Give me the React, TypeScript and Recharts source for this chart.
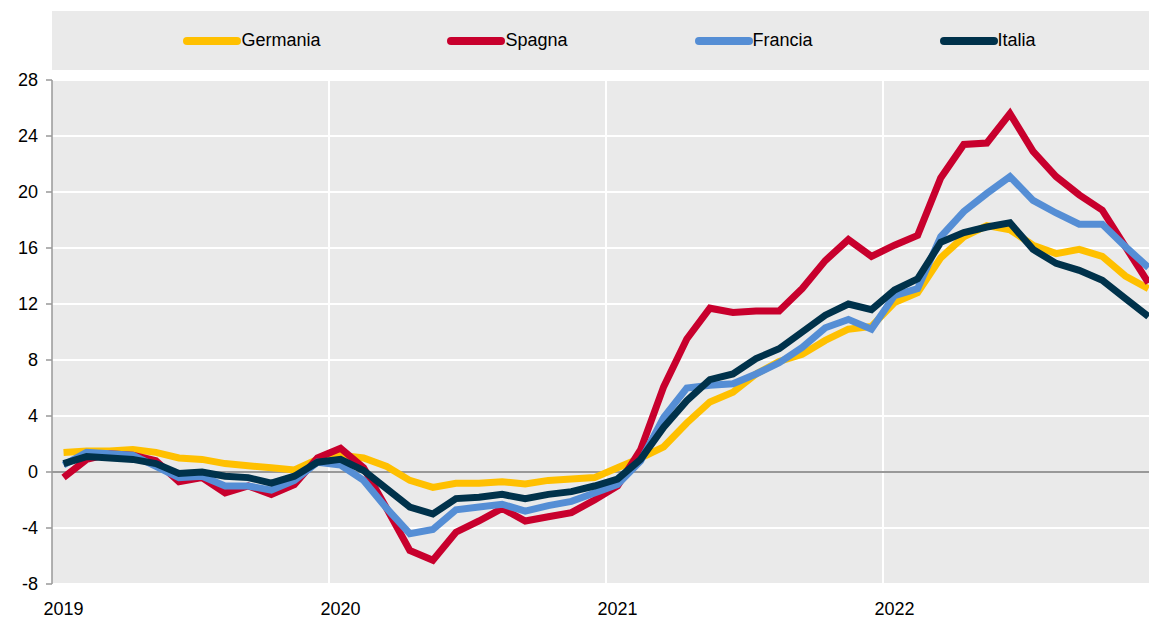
import React from 'react';
import {
  LineChart,
  Line,
  XAxis,
  YAxis,
  CartesianGrid,
  ReferenceLine,
} from 'recharts';

// monthly values, Jan 2019 .. Dec 2022
const years = ['2019', '2020', '2021', '2022'];

const germania = [
  1.4, 1.5, 1.5, 1.6, 1.4, 1.0, 0.9, 0.6, 0.45, 0.3, 0.15, 0.9,
  1.2, 1.0, 0.4, -0.6, -1.1, -0.8, -0.8, -0.7, -0.85, -0.6, -0.5, -0.4,
  0.3, 1.0, 1.8, 3.5, 5.0, 5.7, 7.0, 7.9, 8.4, 9.4, 10.2, 10.4,
  12.1, 12.8, 15.3, 16.8, 17.6, 17.3, 16.2, 15.6, 15.9, 15.4, 14.0, 13.1,
];

const spagna = [
  -0.4, 0.9, 1.3, 1.2, 0.8, -0.7, -0.4, -1.5, -1.0, -1.6, -0.9, 1.0,
  1.7, 0.3, -2.6, -5.6, -6.3, -4.3, -3.5, -2.6, -3.5, -3.2, -2.9, -2.0,
  -1.0, 1.6, 6.1, 9.5, 11.7, 11.4, 11.5, 11.5, 13.1, 15.1, 16.6, 15.4,
  16.2, 16.9, 21.0, 23.4, 23.5, 25.6, 22.9, 21.1, 19.8, 18.7, 16.1, 13.5,
];

const francia = [
  0.5, 1.4, 1.3, 1.2, 0.4, -0.4, -0.3, -1.0, -1.0, -1.3, -0.6, 0.7,
  0.5, -0.6, -2.6, -4.4, -4.1, -2.7, -2.5, -2.3, -2.8, -2.4, -2.1, -1.5,
  -0.9, 0.8, 3.9, 6.0, 6.2, 6.3, 7.0, 7.8, 8.9, 10.3, 10.9, 10.2,
  12.6, 13.1, 16.8, 18.6, 19.9, 21.1, 19.4, 18.5, 17.7, 17.7, 16.1, 14.6,
];

const italia = [
  0.6, 1.1, 1.0, 0.9, 0.6, -0.1, 0.0, -0.3, -0.4, -0.8, -0.3, 0.7,
  0.9, 0.1, -1.2, -2.5, -3.0, -1.9, -1.8, -1.6, -1.9, -1.6, -1.4, -1.0,
  -0.5, 0.9, 3.2, 5.1, 6.6, 7.0, 8.1, 8.8, 10.0, 11.2, 12.0, 11.6,
  13.0, 13.8, 16.4, 17.1, 17.5, 17.8, 15.9, 14.9, 14.4, 13.7, 12.4, 11.1,
];

const yTicks = [-8, -4, 0, 4, 8, 12, 16, 20, 24, 28];

const series = [
  { key: 'Germania', values: germania, color: '#FFC000' },
  { key: 'Spagna', values: spagna, color: '#C8002D' },
  { key: 'Francia', values: francia, color: '#558ED5' },
  { key: 'Italia', values: italia, color: '#00324B' },
];

// each month sits in the middle of its slot, years start at slot 0, 12, 24, 36
const data = germania.map((_, i) => {
  const row: Record<string, number> = { x: i + 0.5 };
  series.forEach((s) => (row[s.key] = s.values[i]));
  return row;
});

const FONT = '"Liberation Sans", Arial, sans-serif';
const BG = '#EAEAEA';

const LegendBox = () => (
  <div
    style={{
      position: 'absolute',
      left: 52,
      top: 11,
      width: 1097,
      height: 59,
      background: BG,
      display: 'flex',
      alignItems: 'center',
      justifyContent: 'center',
      gap: 127,
      paddingLeft: 18,
      boxSizing: 'border-box',
      fontFamily: FONT,
      fontSize: 18,
      color: '#000',
    }}
  >
    {series.map((s) => (
      <div key={s.key} style={{ display: 'flex', alignItems: 'center' }}>
        <span
          style={{
            display: 'inline-block',
            width: 58,
            height: 8,
            borderRadius: 4,
            background: s.color,
          }}
        />
        <span>{s.key}</span>
      </div>
    ))}
  </div>
);

export default function App() {
  return (
    <div
      style={{
        position: 'absolute',
        left: 0,
        top: 0,
        width: 1149,
        height: 622,
        overflow: 'hidden',
        background: '#fff',
      }}
    >
      <LegendBox />
      <LineChart
        width={1160}
        height={622}
        data={data}
        margin={{ top: 80, right: 0, bottom: 8, left: 0 }}
        style={{ fontFamily: FONT }}
      >
        <CartesianGrid
          fill={BG}
          stroke="#fff"
          strokeWidth={2}
          verticalValues={[12, 24, 36]}
          horizontalValues={yTicks}
        />
        <XAxis
          dataKey="x"
          type="number"
          domain={[0, 48]}
          ticks={[0.5, 12.5, 24.5, 36.5]}
          tickFormatter={(v: number) => years[Math.floor(v / 12)]}
          axisLine={false}
          tickLine={false}
          tickSize={0}
          tickMargin={18}
          height={30}
          tick={{ fill: '#000', fontSize: 18 }}
        />
        <YAxis
          type="number"
          domain={[-8, 28]}
          ticks={yTicks}
          width={52}
          axisLine={{ stroke: '#999', strokeWidth: 1.5 }}
          tickLine={{ stroke: '#999', strokeWidth: 1.5 }}
          tickSize={6}
          tickMargin={8}
          tick={{ fill: '#000', fontSize: 18 }}
        />
        <ReferenceLine y={0} stroke="#999" strokeWidth={2} />
        {series.map((s) => (
          <Line
            key={s.key}
            type="linear"
            dataKey={s.key}
            stroke={s.color}
            strokeWidth={7}
            dot={false}
            isAnimationActive={false}
          />
        ))}
      </LineChart>
    </div>
  );
}
